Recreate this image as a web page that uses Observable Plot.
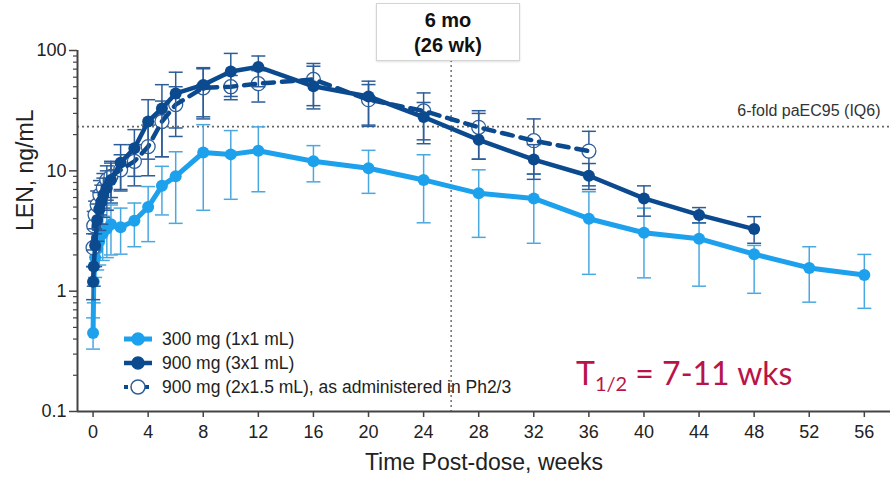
<!DOCTYPE html>
<html>
<head>
<meta charset="utf-8">
<script src="https://cdn.jsdelivr.net/npm/d3@7"></script>
<script src="https://cdn.jsdelivr.net/npm/@observablehq/plot@0.6"></script>
<style>
  html, body { margin: 0; padding: 0; background: #fff; }
  #wrap { position: relative; width: 890px; height: 480px; font-family: "Liberation Sans", Arial, sans-serif; }
  #box { position: absolute; left: 376px; top: 3px; width: 144px; height: 58px; background: #fff;
         border: 1px solid #d4d4d4; box-shadow: 0 1px 2px rgba(0,0,0,0.12);
         text-align: center; font-weight: bold; font-size: 20px; line-height: 25px; color: #111; box-sizing: border-box; padding-top: 4px; }
  #half { position: absolute; left: 576px; top: 353px; font-family: Lato, "Open Sans", sans-serif; font-size: 32px; color: #b8144a; white-space: nowrap; }
  #half sub { font-size: 20px; vertical-align: -6px; }
  #legend { position: absolute; left: 122px; top: 327px; font-size: 17.5px; color: #222; }
  #legend .row { display: flex; align-items: center; height: 24px; }
  #legend svg { margin-right: 8px; }
</style>
</head>
<body>
<div id="wrap">
  <div id="chart"></div>
  <div id="box">6 mo<br>(26 wk)</div>
  <div id="legend"></div>
  <div id="half">T<sub>1/2</sub> = 7-11 wks</div>
</div>
<script>
// ---- data ----
const weeks300 = [0, 0.05, 0.15, 0.3, 0.45, 0.7, 1.0, 1.3, 2, 3, 4, 5, 6, 8, 10, 12, 16, 20, 24, 28, 32, 36, 40, 44, 48, 52, 56];
const mean300  = [0.45, 1.2, 1.9, 2.25, 2.6, 3.0, 3.3, 3.6, 3.4, 3.85, 5.0, 7.5, 9.0, 14.2, 13.7, 14.7, 12.0, 10.5, 8.4, 6.5, 5.9, 4.0, 3.06, 2.73, 2.03, 1.56, 1.36];
const lo300    = [0.33, 0.8, 1.3, 1.5, 1.65, 1.8, 1.9, 2.0, 2.03, 2.34, 2.58, 4.3, 3.66, 4.7, 5.8, 6.7, 8.1, 6.5, 3.7, 2.8, 2.5, 1.38, 1.29, 1.1, 0.96, 0.81, 0.72];
const hi300    = [0.6, 1.6, 2.5, 3.0, 3.5, 4.2, 4.7, 5.2, 4.9, 5.4, 7.4, 10.9, 14.4, 24.2, 21.6, 23.2, 16.2, 14.8, 13.6, 10.2, 9.4, 6.7, 4.9, 3.7, 2.4, 2.34, 2.02];

const weeks900 = [0, 0.05, 0.15, 0.3, 0.45, 0.6, 0.75, 1.0, 1.3, 2, 3, 4, 5, 6, 8, 10, 12, 16, 20, 24, 28, 32, 36, 40, 44, 48];
const mean900  = [1.2, 1.6, 2.4, 3.9, 4.8, 5.5, 6.3, 7.2, 8.4, 11.7, 15.4, 25.7, 33, 44, 51.8, 67, 73, 50.4, 41.5, 28, 18.1, 12.4, 9.1, 5.9, 4.3, 3.28];
const lo900    = [0.85, 1.1, 1.6, 2.6, 3.2, 3.6, 4.1, 4.7, 5.4, 7.0, 9.0, 12.5, 13.1, 19.3, 28.1, 39, 50, 32.7, 23.4, 16.8, 12.5, 8.5, 7.0, 4.2, 3.69, 2.5];
const hi900    = [1.6, 2.2, 3.3, 5.3, 6.6, 7.6, 8.7, 10, 11.6, 16.5, 22, 39, 52, 66, 72, 94.6, 90, 74, 55.6, 44.4, 30, 16.5, 11.5, 7.5, 4.95, 4.16];

const weeks2x  = [0, 0.05, 0.15, 0.3, 0.5, 0.75, 1.0, 1.3, 2, 3, 4, 5, 6, 8, 10, 12, 16, 20, 24, 28, 32, 36];
const mean2x   = [2.3, 3.5, 4.3, 5.2, 6.3, 7.2, 8.4, 9.0, 10.2, 12, 15.9, 25.7, 35.5, 49, 50, 53, 57.5, 39, 31.5, 23, 17.8, 14.6];
const lo2x     = [1.6, 2.4, 3.0, 3.6, 4.3, 4.9, 5.7, 6.0, 6.8, 7.5, 9.1, 13.1, 22.7, 27, 41.5, 37.3, 34.8, 24, 18.1, 12.5, 9.4, 7.5];
const hi2x     = [3.0, 4.6, 5.6, 6.8, 8.3, 9.5, 11, 12, 13.6, 16.5, 24, 38, 50, 70.5, 62, 68, 78, 52.1, 37, 31.6, 27, 21.3];

const xTicks = [0, 4, 8, 12, 16, 20, 24, 28, 32, 36, 40, 44, 48, 52, 56];
const yTicks = [0.1, 1, 10, 100];
const yMinor = [2,3,4,5,6,7,8,9].flatMap(m => [0.1, 1, 10].map(d => m * d));
const iq6 = 23.3;
const sixMonths = 26;
const seriesNames = ["300 mg (1x1 mL)", "900 mg (3x1 mL)", "900 mg (2x1.5 mL), as administered in Ph2/3"];
const refLabel = "6-fold paEC95 (IQ6)";

const light = "#1da1ec", lightBar = "#4aa8e0";
const dark = "#0b4a8e", darkBar = "#2d5d98", openStroke = "#2f5e9a";

const build = (w, m, lo, hi) => w.map((x, i) => ({x, y: m[i], lo: lo[i], hi: hi[i]}));
const s300 = build(weeks300, mean300, lo300, hi300);
const s900 = build(weeks900, mean900, lo900, hi900);
const s2x  = build(weeks2x, mean2x, lo2x, hi2x);

const cap = { draw(ctx, size) { const r = Math.sqrt(size / Math.PI); ctx.moveTo(-r, 0); ctx.lineTo(r, 0); } };
const bars = (data, color) => [
  Plot.ruleX(data, {x: "x", y1: "lo", y2: "hi", stroke: color, strokeWidth: 1.5}),
  Plot.dot(data, {x: "x", y: "lo", symbol: cap, r: 7, stroke: color, strokeWidth: 1.5}),
  Plot.dot(data, {x: "x", y: "hi", symbol: cap, r: 7, stroke: color, strokeWidth: 1.5})
];

const chart = Plot.plot({
  width: 890, height: 480,
  marginLeft: 77, marginRight: 0, marginTop: 50, marginBottom: 69,
  style: {fontFamily: "'Liberation Sans', Arial, sans-serif", color: "#222", background: "#fff"},
  x: {domain: [-1.13, 57.9]},
  y: {type: "log", domain: [0.1, 100]},
  marks: [
    Plot.ruleY([iq6], {stroke: "#666", strokeWidth: 1.6, strokeDasharray: "2,3"}),
    Plot.ruleX([sixMonths], {stroke: "#777", strokeWidth: 1.6, strokeDasharray: "2,3"}),
    Plot.text([refLabel], {frameAnchor: "right", y: [iq6], text: d => d, textAnchor: "end", dx: -10, dy: -16, fontSize: 16, fill: "#333"}),
    ...bars(s300, lightBar),
    Plot.line(s300, {x: "x", y: "y", stroke: light, strokeWidth: 5}),
    Plot.dot(s300, {x: "x", y: "y", r: 6, fill: light}),
    ...bars(s2x, darkBar),
    Plot.dot(s2x, {x: "x", y: "y", r: 7, fill: "#fff", stroke: openStroke, strokeWidth: 1.3}),
    Plot.line(s2x, {x: "x", y: "y", stroke: dark, strokeWidth: 4.5, strokeDasharray: "11,8"}),
    ...bars(s900, darkBar),
    Plot.line(s900, {x: "x", y: "y", stroke: dark, strokeWidth: 4.5}),
    Plot.dot(s900, {x: "x", y: "y", r: 6, fill: dark}),
    Plot.axisX({ticks: xTicks, tickSize: 6, tickPadding: 8, fontSize: 18, label: null, stroke: "#444", strokeWidth: 1.5}),
    Plot.axisY({ticks: yTicks, tickSize: 8, tickPadding: 3, fontSize: 18, label: null, tickFormat: d => String(d), stroke: "#444", strokeWidth: 1.5}),
    Plot.axisY({ticks: yMinor, tickSize: 4, text: null, label: null, stroke: "#444", strokeWidth: 1.2}),
    Plot.ruleX([-1.13], {stroke: "#444", strokeWidth: 2}),
    Plot.ruleY([0.1], {stroke: "#444", strokeWidth: 2}),
    Plot.text(["LEN, ng/mL"], {frameAnchor: "left", text: d => d, rotate: -90, dx: -52, fontSize: 23, fill: "#222"}),
    Plot.text(["Time Post-dose, weeks"], {frameAnchor: "bottom", text: d => d, dy: 58, fontSize: 23, fill: "#222"})
  ]
});
document.getElementById("chart").appendChild(chart);

// legend
const legend = document.getElementById("legend");
const legendStyles = [
  {color: light, dash: null, open: false, sw: 5},
  {color: dark, dash: null, open: false, sw: 4.5},
  {color: dark, dash: "4,3", open: true, sw: 4}
];
seriesNames.forEach((name, i) => {
  const s = legendStyles[i];
  const row = document.createElement("div");
  row.className = "row";
  row.innerHTML = `<svg width="32" height="20">
    <line x1="2" x2="30" y1="10" y2="10" stroke="${s.color}" stroke-width="${s.sw}" ${s.dash ? `stroke-dasharray="${s.dash}"` : ""}/>
    <circle cx="16" cy="10" r="${s.open ? 7 : 6}" fill="${s.open ? "#fff" : s.color}" stroke="${s.open ? openStroke : s.color}" stroke-width="1.5"/>
  </svg><span>${name}</span>`;
  legend.appendChild(row);
});
</script>
</body>
</html>
